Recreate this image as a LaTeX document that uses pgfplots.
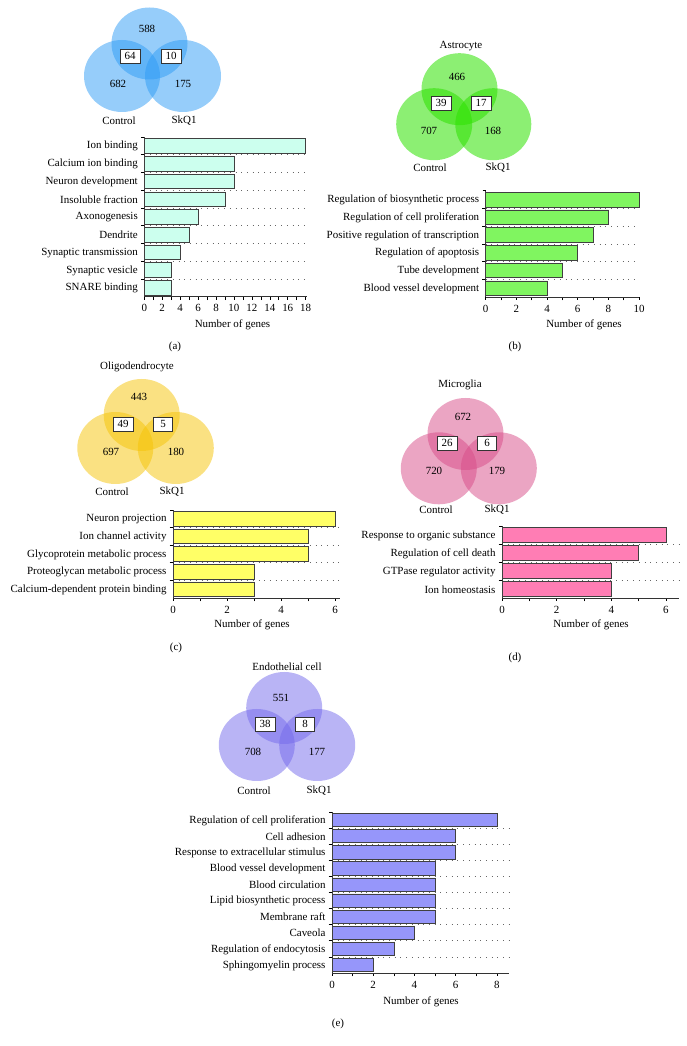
\documentclass[border=0pt]{standalone}
\usepackage{fontspec}
\setmainfont{Liberation Serif}
\usepackage{pgfplots}
\pgfplotsset{compat=1.18}
\definecolor{vennA}{RGB}{45,155,245}
\definecolor{vennB}{RGB}{45,225,0}
\definecolor{vennC}{RGB}{245,195,5}
\definecolor{vennD}{RGB}{215,75,135}
\definecolor{vennE}{RGB}{115,105,235}
\definecolor{barA}{RGB}{204,255,238}
\definecolor{barB}{RGB}{128,245,96}
\definecolor{barC}{RGB}{255,255,102}
\definecolor{barD}{RGB}{255,125,180}
\definecolor{barE}{RGB}{150,150,250}
\pgfplotsset{
  gobar/.style={
    xbar, scale only axis, axis lines*=left, xmin=0, ymin=0.5,
    anchor=south west,
    bar width=0.82, ytick=data,
    major y tick style={draw=none},
    minor y tick style={draw=black, line width=0.6bp},
    yminorgrids,
    minor grid style={black!60, dash pattern=on 0.7bp off 5bp, line width=0.6bp},
    tick align=outside, major tick length=3bp, minor tick length=3.5bp,
    minor x tick num=1,
    axis line style={line width=0.8bp, black!80},
    x tick style={line width=0.6bp, black},
    tick label style={font=\fontsize{11}{12}\selectfont},
    xticklabel style={yshift=-1.5bp},
    yticklabel style={yshift=-0.5bp},
    /pgf/number format/assume math mode=true,
    extra y tick style={grid=none, major y tick style={draw=black, line width=0.6bp}},
    every axis plot/.append style={draw=black!75, line width=0.6bp},
    clip=false,
  },
}
\tikzset{
  vennbox/.style={draw=black!80, fill=white, line width=0.7bp, minimum width=19bp, minimum height=14bp, inner xsep=4.5bp, inner ysep=1bp},
}
\begin{document}
\begin{tikzpicture}[x=1bp, y=1bp, font=\fontsize{11}{13}\selectfont]
\path[use as bounding box] (0,0) rectangle (687,1046);

% ---------- (a) ----------
\fill[vennA, fill opacity=0.5] (149.5,1002.5) ellipse [x radius=38, y radius=36];
\fill[vennA, fill opacity=0.5] (122,970) ellipse [x radius=38, y radius=36];
\fill[vennA, fill opacity=0.5] (183,970) ellipse [x radius=38, y radius=36];
\node at (147,1017) {588};
\node[vennbox] at (130,990) {64};
\node[vennbox] at (171,990) {10};
\node at (118,962) {682};
\node at (183,962) {175};
\node at (119,925) {Control};
\node at (184,925) {SkQ1};
\begin{axis}[gobar, at={(144.3bp,749.3bp)}, width=162.7bp, height=159.7bp,
  xmax=18.15, ymax=9.5, xtick={0,2,...,18},
  minor ytick={1.5,2.5,...,8.5}, extra y ticks={9.5}, extra y tick labels={},
  yticklabels={SNARE binding, Synaptic vesicle, Synaptic transmission, Dendrite, Axonogenesis, Insoluble fraction, Neuron development, Calcium ion binding, Ion binding}]
\addplot[fill=barA] coordinates {(3,1) (3,2) (4,3) (5,4) (6,5) (9,6) (10,7) (10,8) (18,9)};
\end{axis}
\node at (232.5,721) {Number of genes};
\node at (175,699) {(a)};

% ---------- (b) ----------
\node at (461,1000) {Astrocyte};
\fill[vennB, fill opacity=0.55] (459.5,956.8) ellipse [x radius=38, y radius=36];
\fill[vennB, fill opacity=0.55] (434.2,921.8) ellipse [x radius=38, y radius=36];
\fill[vennB, fill opacity=0.55] (493.3,921.8) ellipse [x radius=38, y radius=36];
\node at (457,969) {466};
\node[vennbox] at (441,943) {39};
\node[vennbox] at (481,943) {17};
\node at (429,915) {707};
\node at (493,915) {168};
\node at (430,878) {Control};
\node at (498,878) {SkQ1};
\begin{axis}[gobar, at={(485.7bp,749bp)}, width=153.3bp, height=106.3bp,
  xmax=10, ymax=6.5, xtick={0,2,...,10},
  minor ytick={1.5,2.5,...,5.5}, extra y ticks={6.5}, extra y tick labels={},
  yticklabels={Blood vessel development, Tube development, Regulation of apoptosis, Positive regulation of transcription, Regulation of cell proliferation, Regulation of biosynthetic process}]
\addplot[fill=barB] coordinates {(4,1) (5,2) (6,3) (7,4) (8,5) (10,6)};
\end{axis}
\node at (584,721) {Number of genes};
\node at (515,699) {(b)};

% ---------- (c) ----------
\node at (137,679) {Oligodendrocyte};
\fill[vennC, fill opacity=0.5] (141.7,631) ellipse [x radius=38, y radius=36];
\fill[vennC, fill opacity=0.5] (115.3,598) ellipse [x radius=38, y radius=36];
\fill[vennC, fill opacity=0.5] (175.8,598) ellipse [x radius=38, y radius=36];
\node at (139,649) {443};
\node[vennbox] at (123,622) {49};
\node[vennbox] at (163,622) {5};
\node at (111,594) {697};
\node at (176,594) {180};
\node at (112,554) {Control};
\node at (172,554) {SkQ1};
\begin{axis}[gobar, at={(173bp,448bp)}, width=167.4bp, height=88bp,
  xmax=6.2, ymax=5.5, xtick={0,2,4,6},
  minor ytick={1.5,2.5,...,4.5}, extra y ticks={5.5}, extra y tick labels={},
  yticklabels={Calcium-dependent protein binding, Proteoglycan metabolic process, Glycoprotein metabolic process, Ion channel activity, Neuron projection}]
\addplot[fill=barC] coordinates {(3,1) (3,2) (5,3) (5,4) (6,5)};
\end{axis}
\node at (252,421) {Number of genes};
\node at (176,398) {(c)};

% ---------- (d) ----------
\node at (460,661) {Microglia};
\fill[vennD, fill opacity=0.5] (465.5,612) ellipse [x radius=38, y radius=36];
\fill[vennD, fill opacity=0.5] (438.8,577.7) ellipse [x radius=38, y radius=36];
\fill[vennD, fill opacity=0.5] (498.8,577.7) ellipse [x radius=38, y radius=36];
\node at (463,629) {672};
\node[vennbox] at (447,603) {26};
\node[vennbox] at (487,603) {6};
\node at (434,575) {720};
\node at (497,575) {179};
\node at (436,536) {Control};
\node at (497,536) {SkQ1};
\begin{axis}[gobar, at={(502bp,448bp)}, width=176.8bp, height=72bp,
  xmax=6.47, ymax=4.5, xtick={0,2,4,6},
  minor ytick={1.5,2.5,3.5}, extra y ticks={4.5}, extra y tick labels={},
  yticklabels={Ion homeostasis, GTPase regulator activity, Regulation of cell death, Response to organic substance}]
\addplot[fill=barD] coordinates {(4,1) (4,2) (5,3) (6,4)};
\end{axis}
\node at (591,421) {Number of genes};
\node at (515,388) {(d)};

% ---------- (e) ----------
\node at (287,379) {Endothelial cell};
\fill[vennE, fill opacity=0.5] (284.2,338) ellipse [x radius=38, y radius=36];
\fill[vennE, fill opacity=0.5] (256.8,301) ellipse [x radius=38, y radius=36];
\fill[vennE, fill opacity=0.5] (317.2,301) ellipse [x radius=38, y radius=36];
\node at (281,348) {551};
\node[vennbox] at (265,322) {38};
\node[vennbox] at (305,322) {8};
\node at (253,294) {708};
\node at (317,294) {177};
\node at (254,255) {Control};
\node at (319,255) {SkQ1};
\begin{axis}[gobar, at={(332bp,73bp)}, width=177.2bp, height=161bp,
  xmax=8.6, ymax=10.5, xtick={0,2,4,6,8},
  minor ytick={1.5,2.5,...,9.5}, extra y ticks={10.5}, extra y tick labels={},
  yticklabels={Sphingomyelin process, Regulation of endocytosis, Caveola, Membrane raft, Lipid biosynthetic process, Blood circulation, Blood vessel development, Response to extracellular stimulus, Cell adhesion, Regulation of cell proliferation}]
\addplot[fill=barE] coordinates {(2,1) (3,2) (4,3) (5,4) (5,5) (5,6) (5,7) (6,8) (6,9) (8,10)};
\end{axis}
\node at (421,44) {Number of genes};
\node at (338,22) {(e)};
\end{tikzpicture}
\end{document}
